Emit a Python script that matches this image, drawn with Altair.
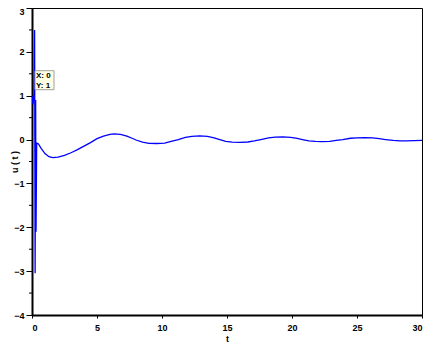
import altair as alt
import pandas as pd

# Signal u(t): spike near t=0, then damped oscillation
t_vals = [0.0, 0.08, 0.15, 0.2, 0.24, 0.28, 0.31, 0.36, 0.5, 0.7, 1.0, 1.3, 1.6, 2.0, 2.5, 3.0,
          3.5, 4.0, 4.5, 5.0, 5.5, 6.0, 6.3, 6.8, 7.3, 7.7, 8.0, 8.5, 9.0, 9.6, 10.2, 10.7,
          11.25, 11.8, 12.3, 12.9, 13.5, 14.0, 14.45, 14.9, 15.4, 16.0, 16.6, 17.1, 17.6,
          18.2, 18.7, 19.3, 19.9, 20.4, 20.8, 21.3, 21.8, 22.3, 22.9, 23.4, 23.9, 24.5,
          25.0, 25.6, 26.2, 26.7, 27.2, 27.8, 28.3, 28.8, 29.4, 30.0]
u_vals = [1.0, 0.8, 1.05, 2.5, -3.05, 0.9, -2.1, -0.08, -0.1, -0.2, -0.32, -0.39, -0.41, -0.4,
          -0.36, -0.3, -0.23, -0.15, -0.07, 0.02, 0.08, 0.12, 0.13, 0.12, 0.08, 0.03, -0.01,
          -0.06, -0.085, -0.09, -0.08, -0.04, 0.0, 0.05, 0.075, 0.085, 0.075, 0.04, 0.0,
          -0.04, -0.06, -0.065, -0.055, -0.03, 0.0, 0.04, 0.055, 0.06, 0.05, 0.025, 0.0,
          -0.03, -0.04, -0.045, -0.04, -0.02, 0.0, 0.03, 0.04, 0.045, 0.04, 0.02, 0.0,
          -0.02, -0.03, -0.03, -0.025, -0.02]

x_ticks = [0, 5, 10, 15, 20, 25, 30]
y_ticks = [-4, -3, -2, -1, 0, 1, 2, 3]
y_minor = [-3.5, -2.5, -1.5, -0.5, 0.5, 1.5, 2.5]

tip_x = [0]
tip_y = [1]

df = pd.DataFrame({"t": t_vals, "u": u_vals})
minor_df = pd.DataFrame({"m": y_minor})

FONT = "Liberation Sans"

xscale = alt.Scale(domain=[0, 30], nice=False, zero=False)
yscale = alt.Scale(domain=[-4, 3], nice=False, zero=False)

line = alt.Chart(df).mark_line(color="#0000ff", strokeWidth=1.3, clip=True).encode(
    x=alt.X("t:Q", scale=xscale, title="t",
            axis=alt.Axis(values=x_ticks, tickSize=3, labelPadding=5, titlePadding=2)),
    y=alt.Y("u:Q", scale=yscale, title="u ( t )",
            axis=alt.Axis(values=y_ticks, tickSize=6, labelPadding=2, titleX=-13,
                          labelOffset=alt.condition("datum.value == 3", alt.value(3), alt.value(0)))),
)

minor = alt.Chart(minor_df).mark_rule(color="black", strokeWidth=1).encode(
    y=alt.Y("m:Q", scale=yscale),
    x=alt.value(-3),
    x2=alt.value(0),
)

tip_df = pd.DataFrame({"tx": tip_x, "ty": tip_y})
tip_df["lx"] = tip_df["tx"].map(lambda v: f"X: {v}")
tip_df["ly"] = tip_df["ty"].map(lambda v: f"Y: {v}")

box = alt.Chart(tip_df).mark_rect(
    fill="#ffffe1", stroke="#a0a0a0", strokeWidth=1,
    xOffset=3, x2Offset=22, yOffset=-25, y2Offset=-6,
).encode(
    x=alt.X("tx:Q", scale=xscale), x2="tx:Q",
    y=alt.Y("ty:Q", scale=yscale), y2="ty:Q",
)

txt1 = alt.Chart(tip_df).mark_text(
    align="left", baseline="alphabetic", dx=4, dy=-18,
    font=FONT, fontSize=8, fontWeight="bold", color="black",
).encode(x=alt.X("tx:Q", scale=xscale), y=alt.Y("ty:Q", scale=yscale), text="lx:N")

txt2 = alt.Chart(tip_df).mark_text(
    align="left", baseline="alphabetic", dx=4, dy=-8,
    font=FONT, fontSize=8, fontWeight="bold", color="black",
).encode(x=alt.X("tx:Q", scale=xscale), y=alt.Y("ty:Q", scale=yscale), text="ly:N")

chart = alt.layer(line, minor, box, txt1, txt2).properties(
    width=390, height=307,
    autosize=alt.AutoSizeParams(type="none"),
    padding={"left": 24, "top": 0, "right": 12, "bottom": 27},
).configure_view(
    stroke="black", strokeWidth=1,
).configure_axis(
    grid=False,
    domainColor="black", domainWidth=2,
    tickColor="black", tickWidth=1,
    labelFont=FONT, labelFontSize=9, labelFontWeight="bold", labelColor="black",
    titleFont=FONT, titleFontSize=9, titleFontWeight="bold", titleColor="black",
)

chart.save("out.html", embed_options={"renderer": "svg", "actions": False})
